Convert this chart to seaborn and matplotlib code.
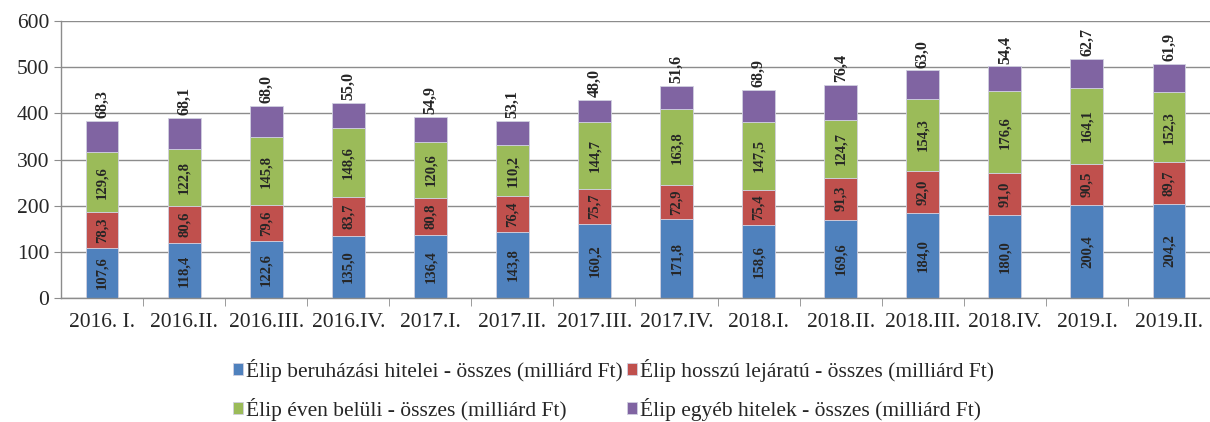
import matplotlib
matplotlib.use("Agg")
import matplotlib.pyplot as plt
import numpy as np
import seaborn as sns

periods = ["2016. I.", "2016.II.", "2016.III.", "2016.IV.", "2017.I.", "2017.II.", "2017.III.",
           "2017.IV.", "2018.I.", "2018.II.", "2018.III.", "2018.IV.", "2019.I.", "2019.II."]
beruhazasi = [107.6, 118.4, 122.6, 135.0, 136.4, 143.8, 160.2, 171.8, 158.6, 169.6, 184.0, 180.0, 200.4, 204.2]
hosszu = [78.3, 80.6, 79.6, 83.7, 80.8, 76.4, 75.7, 72.9, 75.4, 91.3, 92.0, 91.0, 90.5, 89.7]
even_beluli = [129.6, 122.8, 145.8, 148.6, 120.6, 110.2, 144.7, 163.8, 147.5, 124.7, 154.3, 176.6, 164.1, 152.3]
egyeb = [68.3, 68.1, 68.0, 55.0, 54.9, 53.1, 48.0, 51.6, 68.9, 76.4, 63.0, 54.4, 62.7, 61.9]

series_names = ["Élip beruházási hitelei - összes (milliárd Ft)",
                "Élip hosszú lejáratú - összes (milliárd Ft)",
                "Élip éven belüli - összes (milliárd Ft)",
                "Élip egyéb hitelek - összes (milliárd Ft)"]
colors = ["#4F81BD", "#C0504D", "#9BBB59", "#8064A2"]

sns.set_style("white")
plt.rcParams["font.family"] = ["Liberation Serif", "DejaVu Serif"]

fig = plt.figure(figsize=(12.1, 4.22), dpi=100)
ax = fig.add_axes([0.0504, 0.294, 0.9496, 0.656])

bottom = np.zeros(len(periods))
all_series = [beruhazasi, hosszu, even_beluli, egyeb]
for i, (vals, name, col) in enumerate(zip(all_series, series_names, colors)):
    sns.barplot(x=periods, y=vals, bottom=bottom, color=col, saturation=1, width=0.4, ax=ax,
                label=name, edgecolor="#d0d0e0", linewidth=0.6)
    cont = ax.containers[-1]
    labels = [f"{v:.1f}".replace(".", ",") for v in vals]
    if i < 3:
        ax.bar_label(cont, labels=labels, label_type="center", rotation=90,
                     fontsize=10.5, fontweight="bold")
    else:
        ax.bar_label(cont, labels=labels, label_type="edge", rotation=90,
                     fontsize=11.5, fontweight="bold", padding=2)
    bottom = bottom + np.array(vals)

ax.set_ylim(0, 600)
ax.set_xlim(-0.5, len(periods) - 0.5)
ax.set_yticks(range(0, 601, 100))
ax.yaxis.grid(True, color="#8c8c8c", linewidth=1)
ax.set_axisbelow(True)
for s in ["top", "right"]:
    ax.spines[s].set_visible(False)
for s in ["left", "bottom"]:
    ax.spines[s].set_color("#8c8c8c")
    ax.spines[s].set_linewidth(1)

ax.tick_params(axis="y", which="major", length=5, color="#8c8c8c", labelsize=15.5, direction="out", left=True)
ax.tick_params(axis="x", which="major", length=0, labelsize=15.5, pad=11)
ax.set_xticks(np.arange(0.5, len(periods) - 0.5, 1), minor=True)
ax.tick_params(axis="x", which="minor", length=6, color="#8c8c8c", bottom=True)
ax.set_xlabel("")
ax.set_ylabel("")

ax.legend().remove()
handles, labs = ax.get_legend_handles_labels()
order = [0, 2, 1, 3]
fig.legend([handles[k] for k in order], [labs[k] for k in order],
           loc="upper center", bbox_to_anchor=(0.507, 0.196), ncol=2,
           frameon=False, fontsize=15.5, handlelength=0.45, handleheight=0.45,
           handletextpad=0.15, columnspacing=0.2, labelspacing=0.75)

fig.savefig("out.png", dpi=100)
